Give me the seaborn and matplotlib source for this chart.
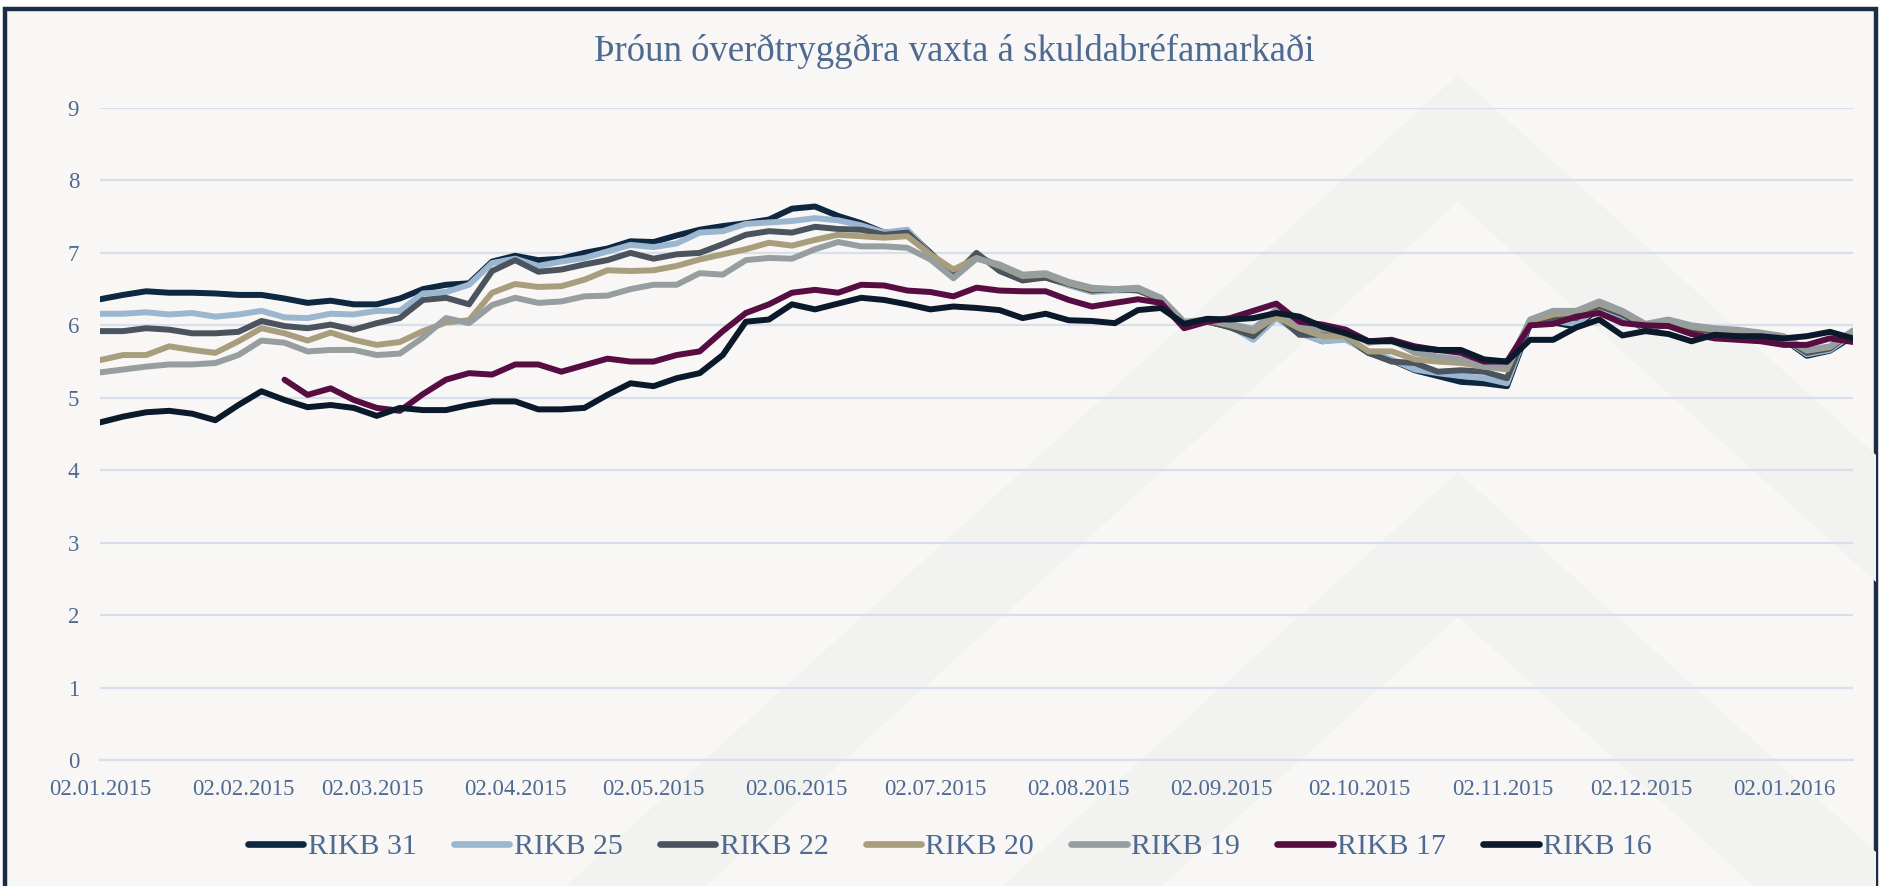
import numpy as np
import pandas as pd
import matplotlib
matplotlib.use("Agg")
import matplotlib.pyplot as plt
import matplotlib.dates as mdates
from matplotlib.patches import Polygon, Rectangle
from matplotlib.lines import Line2D
import seaborn as sns

nan = np.nan

title = "Þróun óverðtryggðra vaxta á skuldabréfamarkaði"
series_names = ["RIKB 31", "RIKB 25", "RIKB 22", "RIKB 20", "RIKB 19", "RIKB 17", "RIKB 16"]

# one reading every 5 days from 02.01.2015
start_date = "2015-01-02"
step_days = 5
tick_dates = ["2015-01-02", "2015-02-02", "2015-03-02", "2015-04-02", "2015-05-02",
              "2015-06-02", "2015-07-02", "2015-08-02", "2015-09-02", "2015-10-02",
              "2015-11-02", "2015-12-02", "2016-01-02"]

rikb31 = [6.36, 6.42, 6.47, 6.45, 6.45, 6.44, 6.42, 6.42, 6.37, 6.31, 6.34, 6.29, 6.29,
          6.37, 6.50, 6.56, 6.58, 6.88, 6.96, 6.90, 6.92, 7.00, 7.06, 7.16, 7.15, 7.24,
          7.32, 7.37, 7.41, 7.46, 7.61, 7.64, 7.51, 7.41, 7.28, 7.30, 7.00, 6.70,
          6.95, 6.82, 6.68, 6.66, 6.56, 6.47, 6.49, 6.50, 6.33, 6.03, 6.05, 5.98, 5.88,
          6.12, 5.90, 5.78, 5.82, 5.62, 5.52, 5.38, 5.30, 5.22, 5.20, 5.16, 6.02,
          6.04, 5.98, 6.24, 6.12, 5.95, 6.01, 5.92, 5.89, 5.89, 5.86, 5.81, 5.58, 5.65, 5.85]
rikb25 = [6.16, 6.16, 6.18, 6.15, 6.17, 6.12, 6.15, 6.20, 6.11, 6.10, 6.16, 6.15, 6.20,
          6.20, 6.44, 6.46, 6.56, 6.86, 6.92, 6.82, 6.88, 6.93, 7.02, 7.11, 7.08, 7.13,
          7.28, 7.30, 7.40, 7.42, 7.44, 7.48, 7.45, 7.38, 7.28, 7.32, 6.98, 6.68,
          6.96, 6.80, 6.62, 6.68, 6.55, 6.46, 6.48, 6.49, 6.34, 6.02, 6.05, 5.99, 5.80,
          6.10, 5.89, 5.78, 5.80, 5.64, 5.53, 5.39, 5.34, 5.30, 5.27, 5.20, 6.05,
          6.06, 6.02, 6.25, 6.13, 5.96, 6.02, 5.92, 5.90, 5.90, 5.87, 5.82, 5.60, 5.66, 5.88]
rikb22 = [5.92, 5.92, 5.96, 5.94, 5.89, 5.89, 5.91, 6.06, 5.99, 5.96, 6.01, 5.94, 6.03,
          6.10, 6.35, 6.38, 6.29, 6.75, 6.90, 6.74, 6.77, 6.84, 6.90, 7.00, 6.92, 6.98,
          7.00, 7.12, 7.25, 7.30, 7.28, 7.36, 7.33, 7.32, 7.25, 7.28, 6.98, 6.68,
          7.00, 6.75, 6.62, 6.66, 6.57, 6.48, 6.50, 6.48, 6.36, 6.02, 6.06, 5.97, 5.85,
          6.15, 5.87, 5.87, 5.85, 5.62, 5.50, 5.48, 5.36, 5.38, 5.36, 5.27, 6.05,
          6.10, 6.10, 6.27, 6.15, 5.98, 6.03, 5.95, 5.92, 5.91, 5.88, 5.83, 5.62, 5.68, 5.92]
rikb20 = [5.52, 5.59, 5.59, 5.71, 5.66, 5.62, 5.78, 5.96, 5.89, 5.79, 5.90, 5.80, 5.73,
          5.77, 5.92, 6.04, 6.07, 6.45, 6.57, 6.53, 6.54, 6.63, 6.76, 6.75, 6.76, 6.82,
          6.91, 6.98, 7.05, 7.14, 7.10, 7.18, 7.25, 7.23, 7.21, 7.23, 6.98, 6.77,
          6.93, 6.82, 6.68, 6.70, 6.58, 6.50, 6.50, 6.50, 6.37, 6.04, 6.07, 6.00, 5.92,
          6.12, 5.96, 5.85, 5.85, 5.64, 5.64, 5.53, 5.50, 5.48, 5.43, 5.39, 6.06,
          6.15, 6.18, 6.30, 6.18, 6.00, 6.06, 5.98, 5.94, 5.93, 5.89, 5.83, 5.65, 5.70, 5.92]
rikb19 = [5.35, 5.39, 5.43, 5.46, 5.46, 5.48, 5.59, 5.79, 5.76, 5.64, 5.66, 5.66, 5.59,
          5.61, 5.83, 6.10, 6.03, 6.28, 6.38, 6.31, 6.33, 6.40, 6.41, 6.50, 6.56, 6.56,
          6.72, 6.70, 6.90, 6.93, 6.92, 7.05, 7.15, 7.09, 7.09, 7.07, 6.91, 6.65,
          6.92, 6.84, 6.70, 6.72, 6.60, 6.52, 6.50, 6.52, 6.38, 6.05, 6.08, 6.02, 5.95,
          6.22, 6.01, 5.94, 5.94, 5.76, 5.80, 5.62, 5.57, 5.53, 5.43, 5.43, 6.08,
          6.20, 6.20, 6.33, 6.20, 6.02, 6.08, 6.00, 5.96, 5.94, 5.90, 5.85, 5.66, 5.71, 5.93]
rikb17 = [nan, nan, nan, nan, nan, nan, nan, nan, 5.25, 5.04, 5.13, 4.97, 4.86,
          4.82, 5.05, 5.25, 5.34, 5.32, 5.46, 5.46, 5.36, 5.45, 5.54, 5.50, 5.50, 5.59,
          5.64, 5.92, 6.17, 6.29, 6.45, 6.49, 6.45, 6.56, 6.55, 6.48, 6.46, 6.40,
          6.52, 6.48, 6.47, 6.47, 6.35, 6.26, 6.31, 6.36, 6.31, 5.96, 6.05, 6.10, 6.20,
          6.30, 6.05, 6.01, 5.94, 5.78, 5.80, 5.71, 5.66, 5.62, 5.50, 5.50, 6.00,
          6.02, 6.12, 6.17, 6.03, 6.00, 5.99, 5.88, 5.82, 5.80, 5.78, 5.73, 5.73, 5.82, 5.77]
rikb16 = [4.66, 4.74, 4.80, 4.82, 4.78, 4.69, 4.90, 5.09, 4.97, 4.87, 4.90, 4.86, 4.75,
          4.86, 4.83, 4.83, 4.90, 4.95, 4.95, 4.84, 4.84, 4.86, 5.04, 5.20, 5.16, 5.27,
          5.34, 5.59, 6.05, 6.08, 6.29, 6.22, 6.30, 6.38, 6.35, 6.29, 6.22, 6.26,
          6.24, 6.21, 6.10, 6.16, 6.07, 6.06, 6.03, 6.21, 6.24, 6.02, 6.09, 6.08, 6.10,
          6.17, 6.12, 5.98, 5.89, 5.78, 5.78, 5.69, 5.66, 5.66, 5.53, 5.50, 5.80,
          5.80, 5.97, 6.08, 5.86, 5.92, 5.88, 5.78, 5.87, 5.85, 5.85, 5.82, 5.85, 5.91, 5.82]

colors = {"RIKB 31": "#0e2841", "RIKB 25": "#9bb7cf", "RIKB 22": "#4b545e",
          "RIKB 20": "#a89e7e", "RIKB 19": "#979e9f", "RIKB 17": "#570d42",
          "RIKB 16": "#0b1a2a"}
text_color = "#4f6a91"
bg_color = "#f8f7f5"
band_color = "#f2f2f0"
grid_color = "#d8dfea"

# build long table for seaborn
values = [rikb31, rikb25, rikb22, rikb20, rikb19, rikb17, rikb16]
dates = pd.date_range(start_date, periods=len(rikb31), freq=f"{step_days}D")
frames = []
for name, vals in zip(series_names, values):
    frames.append(pd.DataFrame({"Date": dates, "Yield": vals, "Bond": name}))
df = pd.concat(frames).dropna()

sns.set_style("white")
plt.rcParams["font.family"] = ["Liberation Serif", "DejaVu Serif"]
plt.rcParams["lines.solid_joinstyle"] = "round"
plt.rcParams["lines.solid_capstyle"] = "round"

W, H = 1881, 886
fig = plt.figure(figsize=(W / 100, H / 100), dpi=100, facecolor="white")

def px(x, y):
    return (x / W, 1 - y / H)

# dark frame with light fill
frame = Rectangle(px(5, 960), (1876 - 5) / W, (960 - 9) / H, transform=fig.transFigure,
                  facecolor=bg_color, edgecolor="#1b2d45", lw=3.2, zorder=-3)
fig.patches.append(frame)

# faint chevron watermark
def chevron(y_outer, y_inner, apex=1458, slope=1.1, base=1000):
    pts = [(apex - slope * (base - y_outer), base), (apex, y_outer),
           (apex + slope * (base - y_outer), base), (apex + slope * (base - y_inner), base),
           (apex, y_inner), (apex - slope * (base - y_inner), base)]
    return Polygon([px(x, y) for x, y in pts], closed=True, transform=fig.transFigure,
                   facecolor=band_color, edgecolor="none", zorder=-2)

for ya, yb in [(75, 202), (472, 617)]:
    band = chevron(ya, yb)
    fig.patches.append(band)
    band.set_clip_path(frame)

ax = fig.add_axes([100 / W, 1 - 760 / H, (1853 - 100) / W, (760 - 108) / H])
ax.set_facecolor("none")

sns.lineplot(data=df, x="Date", y="Yield", hue="Bond", hue_order=series_names,
             palette=colors, linewidth=4.3, estimator=None, legend=False, ax=ax)

ax.set_ylim(0, 9)
ax.set_yticks(range(0, 10))
ax.set_xlim(dates[0], dates[-1])
ax.set_xticks(pd.to_datetime(tick_dates))
ax.xaxis.set_major_formatter(mdates.DateFormatter("%d.%m.%Y"))
ax.set_xlabel("")
ax.set_ylabel("")
ax.grid(axis="y", color=grid_color, lw=1.6)
ax.grid(axis="x", visible=False)
for side in ["left", "right", "top"]:
    ax.spines[side].set_visible(False)
ax.spines["bottom"].set_color(grid_color)
ax.spines["bottom"].set_linewidth(1.6)
ax.tick_params(axis="x", length=6, width=1.4, color=grid_color, labelcolor=text_color,
               labelsize=16.5, pad=8)
ax.tick_params(axis="y", length=0, labelcolor=text_color, labelsize=16.5, pad=15)

fig.text(954 / W, 1 - 51 / H, title, ha="center", va="center", fontsize=26.5, color=text_color)

handles = [Line2D([], [], color=colors[n], lw=4.8, solid_capstyle="round") for n in series_names]
fig.legend(handles, series_names, loc="center", bbox_to_anchor=px(950, 847), ncol=7,
           frameon=False, fontsize=21.5, labelcolor=text_color, handlelength=1.85,
           handletextpad=0.15, columnspacing=1.25)

fig.savefig("out.png", dpi=100, facecolor=fig.get_facecolor())
